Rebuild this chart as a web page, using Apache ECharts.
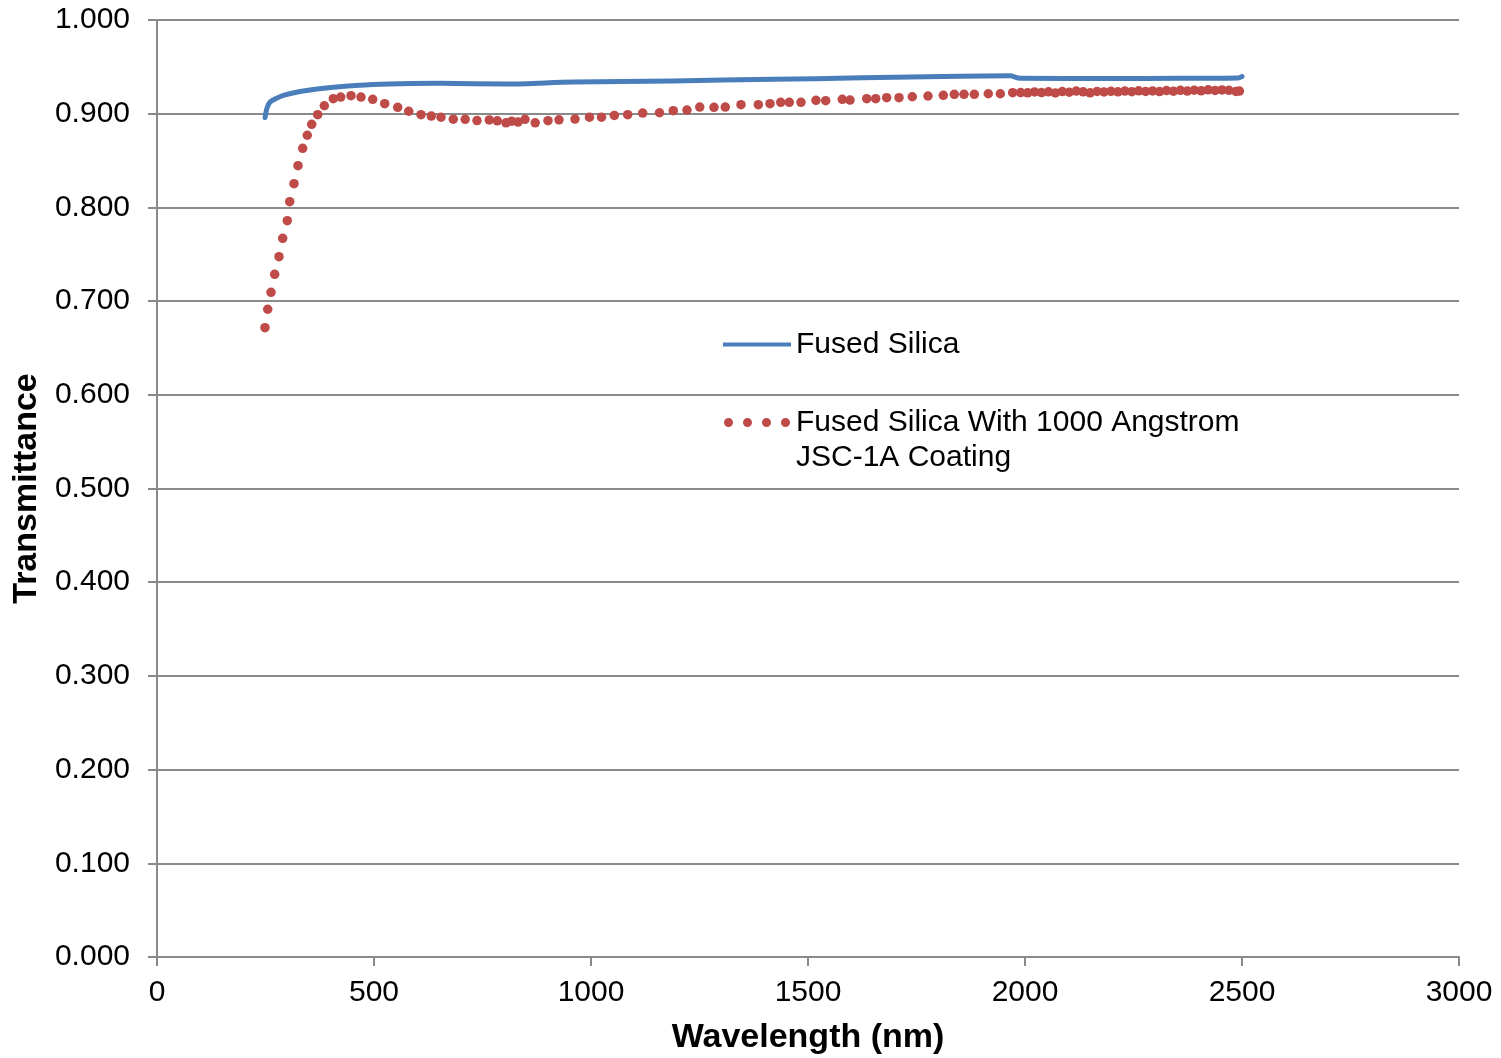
<!DOCTYPE html>
<html>
<head>
<meta charset="utf-8">
<title>Transmittance</title>
<script src="https://cdn.jsdelivr.net/npm/echarts@6/dist/echarts.min.js"></script>
<style>
  html, body { margin: 0; padding: 0; background: #ffffff; }
  #chart { width: 1501px; height: 1058px; }
</style>
</head>
<body>
<div id="chart"></div>
<script>
// Uncoated fused silica: wavelength (nm) and transmittance
const silicaWavelength = [249, 253.5, 260.4, 274.2, 294.9, 329.5, 368.7, 433.2, 513.8, 652.1, 806.5, 958.5, 1188.9, 1419.4, 1516.1, 1735.0, 1965.4, 1988.5, 2195.9, 2357.1, 2490.8, 2500];
const silicaTransmittance = [0.8959, 0.9061, 0.9125, 0.9162, 0.9200, 0.9237, 0.9264, 0.9292, 0.9314, 0.9324, 0.9317, 0.9338, 0.9349, 0.9368, 0.9372, 0.9393, 0.9404, 0.9378, 0.9375, 0.9378, 0.9381, 0.9397];

// Fused silica with 1000 Angstrom JSC-1A coating: wavelength (nm) and transmittance
const coatedWavelength = [
  248.8, 255.1, 262.7, 271.2, 281.1, 289.6, 300.2, 305.8, 315.7, 324.9,
  335.7, 346.3, 356.5, 370.3, 385.5, 406.2, 423.3, 447.0, 470.0, 497.0,
  524.7, 554.6, 580.0, 608.3, 632.0, 654.4, 682.7, 710.1, 737.3, 765.7,
  784.1, 804.1, 817.3, 831.8, 847.9, 871.4, 900.9, 926.3, 963.1, 996.5,
  1024.2, 1053.7, 1084.6, 1119.1, 1157.8, 1189.6, 1221.2, 1250.5, 1283.4, 1309.4,
  1345.6, 1385.5, 1412.4, 1437.1, 1456.9, 1483.9, 1518.4, 1540.8, 1579.0, 1596.8,
  1635.3, 1656.0, 1681.3, 1709.7, 1740.3, 1776.5, 1811.8, 1837.1, 1859.4, 1883.2,
  1915.4, 1943.1, 1971.7,
  1990, 2006, 2022, 2038, 2054, 2070, 2086, 2102, 2118, 2134,
  2150, 2166, 2182, 2198, 2214, 2230, 2246, 2262, 2278, 2294,
  2310, 2326, 2342, 2358, 2374, 2390, 2406, 2422, 2438, 2454,
  2470, 2486, 2494
];
const coatedTransmittance = [
  0.6716, 0.6913, 0.7094, 0.7286, 0.7474, 0.7670, 0.7858, 0.8061, 0.8253, 0.8445,
  0.8631, 0.8770, 0.8887, 0.8989, 0.9085, 0.9160, 0.9178, 0.9192, 0.9178, 0.9154,
  0.9107, 0.9068, 0.9026, 0.8989, 0.8975, 0.8962, 0.8941, 0.8940, 0.8927, 0.8933,
  0.8924, 0.8903, 0.8920, 0.8911, 0.8940, 0.8903, 0.8925, 0.8935, 0.8943, 0.8962,
  0.8963, 0.8981, 0.8989, 0.9007, 0.9010, 0.9032, 0.9039, 0.9071, 0.9068, 0.9071,
  0.9096, 0.9096, 0.9107, 0.9122, 0.9122, 0.9122, 0.9143, 0.9139, 0.9154, 0.9146,
  0.9160, 0.9160, 0.9171, 0.9171, 0.9181, 0.9189, 0.9196, 0.9207, 0.9207, 0.9207,
  0.9213, 0.9213, 0.9224,
  0.9226, 0.9223, 0.9232, 0.9225, 0.9234, 0.9222, 0.9236, 0.9229, 0.9242, 0.9234,
  0.9223, 0.9237, 0.9232, 0.9239, 0.9234, 0.9242, 0.9235, 0.9244, 0.9237, 0.9243,
  0.9236, 0.9247, 0.9240, 0.9249, 0.9242, 0.9251, 0.9244, 0.9255, 0.9248, 0.9254,
  0.9250, 0.9237, 0.9242
];

// Axis ticks
const xTicks = [0, 500, 1000, 1500, 2000, 2500, 3000];
const yTicks = [0.0, 0.1, 0.2, 0.3, 0.4, 0.5, 0.6, 0.7, 0.8, 0.9, 1.0];

const silicaName = 'Fused Silica';
const coatedName = 'Fused Silica With 1000 Angstrom JSC-1A Coating';

const zip = (xs, ys) => xs.map((x, i) => [x, ys[i]]);

const gray = '#8a8a8a';
const blue = '#4a7ebb';
const red = '#be4b48';
const font = 'Liberation Sans, Arial, sans-serif';

// legend glyphs: a short solid bar, and four round dots
const barIcon = 'path://M0,2.6H68V6.4H0Z';
const dotsIcon = 'path://M0,4.5A4.5,4.5 0 1,1 9,4.5A4.5,4.5 0 1,1 0,4.5Z M19,4.5A4.5,4.5 0 1,1 28,4.5A4.5,4.5 0 1,1 19,4.5Z M38,4.5A4.5,4.5 0 1,1 47,4.5A4.5,4.5 0 1,1 38,4.5Z M57,4.5A4.5,4.5 0 1,1 66,4.5A4.5,4.5 0 1,1 57,4.5Z';

const chart = echarts.init(document.getElementById('chart'), null, { renderer: 'canvas' });

chart.setOption({
  animation: false,
  backgroundColor: '#ffffff',
  textStyle: { fontFamily: font },
  grid: { left: 157, right: 42, top: 20, bottom: 101, containLabel: false, outerBoundsMode: 'none' },
  xAxis: {
    type: 'value',
    min: xTicks[0],
    max: xTicks[xTicks.length - 1],
    interval: 500,
    name: 'Wavelength (nm)',
    nameLocation: 'middle',
    nameGap: 64,
    nameTextStyle: { fontFamily: font, fontSize: 34, fontWeight: 'bold', color: '#000' },
    axisLine: { show: true, onZero: false, lineStyle: { color: gray, width: 2 } },
    axisTick: { show: true, inside: false, length: 9, lineStyle: { color: gray, width: 2 } },
    axisLabel: { fontFamily: font, fontSize: 30, color: '#000', margin: 21, formatter: v => String(v) },
    splitLine: { show: false }
  },
  yAxis: {
    type: 'value',
    min: yTicks[0],
    max: yTicks[yTicks.length - 1],
    interval: 0.1,
    name: 'Transmittance',
    nameLocation: 'middle',
    nameGap: 107,
    nameTextStyle: { fontFamily: font, fontSize: 34, fontWeight: 'bold', color: '#000' },
    axisLine: { show: true, lineStyle: { color: gray, width: 2 } },
    axisTick: { show: true, inside: false, length: 9, lineStyle: { color: gray, width: 2 } },
    axisLabel: {
      fontFamily: font, fontSize: 30, color: '#000', margin: 27,
      formatter: v => v.toFixed(3)
    },
    splitLine: { show: true, lineStyle: { color: gray, width: 2 } }
  },
  legend: {
    orient: 'vertical',
    left: 723,
    top: 327,
    padding: 0,
    itemGap: 8,
    itemWidth: 68,
    itemHeight: 9,
    selectedMode: false,
    textStyle: { fontFamily: font, fontSize: 30, color: '#000', lineHeight: 35 },
    // the coated entry wraps onto two lines; a blank leading line keeps its first line level with the dots
    formatter: name => name === coatedName ? '\u00a0\nFused Silica With 1000 Angstrom\nJSC-1A Coating' : name,
    data: [
      { name: silicaName, icon: barIcon },
      { name: coatedName, icon: dotsIcon }
    ]
  },
  series: [
    {
      name: silicaName,
      type: 'line',
      data: zip(silicaWavelength, silicaTransmittance),
      showSymbol: false,
      symbol: 'none',
      smooth: 0.3,
      color: blue,
      itemStyle: { color: blue },
      lineStyle: { color: blue, width: 5, cap: 'round', join: 'round' },
      z: 3
    },
    {
      name: coatedName,
      type: 'scatter',
      data: zip(coatedWavelength, coatedTransmittance),
      symbol: 'circle',
      symbolSize: 9.5,
      color: red,
      itemStyle: { color: red, opacity: 1 },
      z: 4
    }
  ]
});
</script>
</body>
</html>
